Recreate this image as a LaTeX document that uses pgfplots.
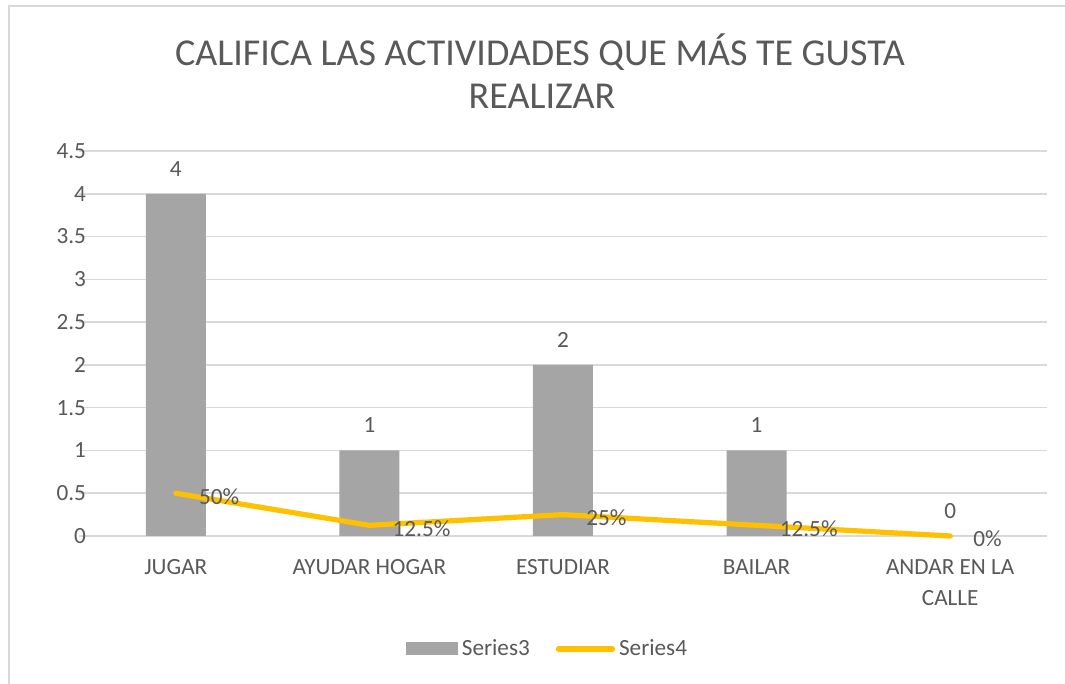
\documentclass[border=0pt]{standalone}
\usepackage{pgfplots}
\pgfplotsset{compat=1.18}
\usepackage{fontspec}
\setmainfont{Carlito}
\definecolor{txt}{HTML}{595959}
\definecolor{barc}{HTML}{A5A5A5}
\definecolor{linec}{HTML}{FFC000}
\definecolor{gridc}{HTML}{D9D9D9}
\newcommand{\lblfont}{\fontsize{11.6}{15.5}\selectfont}
\begin{document}
\begin{tikzpicture}
\useasboundingbox (0,0) rectangle (532.5pt,342pt);
\fill[white] (0,0) rectangle (532.5pt,342pt);
\draw[gridc, line width=0.75pt] (4.5pt,0) -- (4.5pt,339pt) -- (532.5pt,339pt);
\node[text=txt, font=\fontsize{19}{22}\selectfont] at (270pt,316pt) {CALIFICA LAS ACTIVIDADES QUE MÁS TE GUSTA};
\node[text=txt, font=\fontsize{19}{22}\selectfont] at (271pt,294pt) {REALIZAR};
\begin{axis}[
  at={(39.5pt,74pt)}, anchor=south west, scale only axis,
  width=484pt, height=192.5pt,
  xmin=-0.5, xmax=4.5, ymin=0, ymax=4.5,
  ytick={0,0.5,1,1.5,2,2.5,3,3.5,4,4.5},
  yticklabels={0,0.5,1,1.5,2,2.5,3,3.5,4,4.5},
  xtick={0,1,2,3,4},
  xticklabels={JUGAR, AYUDAR HOGAR, ESTUDIAR, BAILAR, {ANDAR EN LA\\CALLE}},
  axis line style={draw=none},
  major tick length=0pt,
  ymajorgrids, grid style={gridc, line width=0.75pt},
  tick label style={font=\lblfont, text=txt},
  xticklabel style={align=center, yshift=-8.3pt},
  yticklabel style={xshift=7pt},
  /pgf/number format/assume math mode=true,
  clip=false,
  legend style={at={(0.485,-0.2935)}, anchor=center, draw=none, fill=none,
    legend columns=2, font=\lblfont, text=txt,
    /tikz/every even column/.append style={column sep=11pt}},
]
\addplot[ybar, bar width=30pt, fill=barc, draw=none,
  nodes near coords,
  nodes near coords style={font=\lblfont, text=txt, yshift=5.3pt},
  legend image code/.code={\fill[barc] (0pt,-3.25pt) rectangle (26pt,3.25pt);}]
  coordinates {(0,4) (1,1) (2,2) (3,1) (4,0)};
\addlegendentry{Series3}
\addplot[linec, line width=2.6pt, line cap=round, line join=round, mark=none,
  nodes near coords, point meta=explicit symbolic,
  every node near coord/.append style={anchor=west, xshift=7pt, yshift=-1.5pt, font=\lblfont, text=txt},
  legend image code/.code={\draw[linec, line width=2.6pt, line cap=round] (0pt,0pt) -- (27pt,0pt);}]
  coordinates {(0,0.5) [50\%] (1,0.125) [12.5\%] (2,0.25) [25\%] (3,0.125) [12.5\%] (4,0) [0\%]};
\addlegendentry{Series4}
\end{axis}
\end{tikzpicture}
\end{document}
